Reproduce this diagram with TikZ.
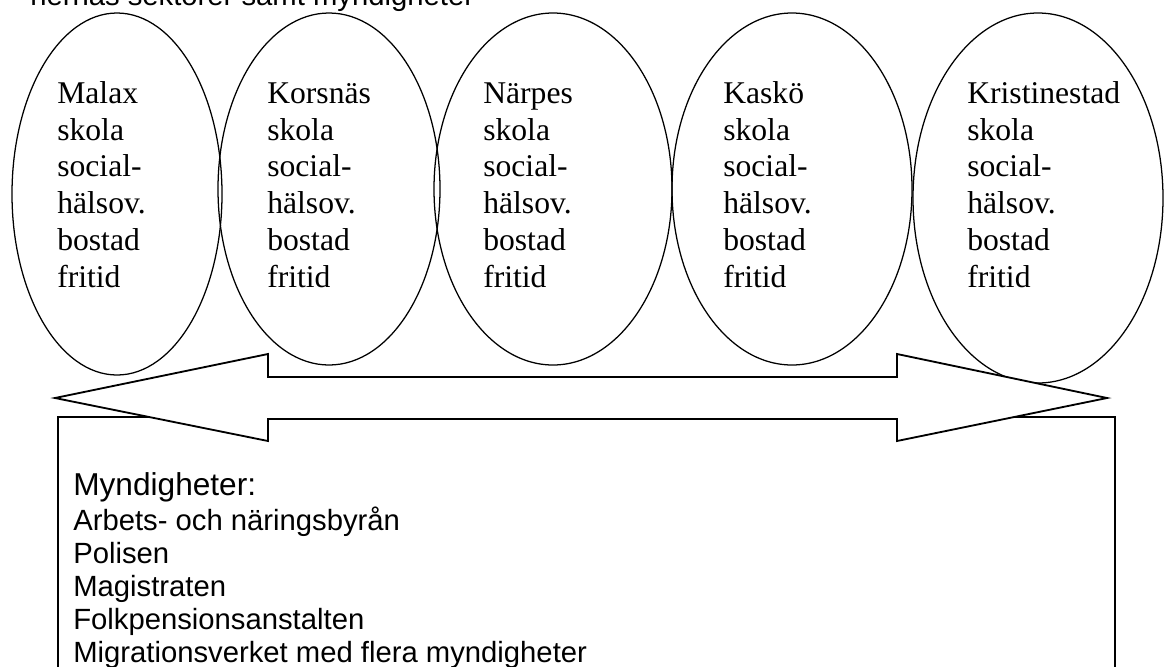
\documentclass[tikz,border=0pt]{standalone}
\usepackage{fontspec}
\setmainfont{Liberation Serif}
\setsansfont{Liberation Sans}
\usetikzlibrary{shapes.geometric}

\begin{document}
\begin{tikzpicture}[x=0.025cm, y=-0.025cm]
\tikzstyle{kommun} = [ellipse, draw, line width=0.9pt, inner sep=0pt]
\tikzstyle{ortstext} = [anchor=base west, align=left, inner sep=0pt,
  font=\fontsize{22.5}{26.1}\selectfont]
\tikzstyle{listtext} = [anchor=base west, align=left, inner sep=0pt,
  font=\sffamily\fontsize{20.8}{23.4}\selectfont]
\useasboundingbox (0,0) rectangle (1164,666);

\node[listtext] (rubrik) at (30,5) {nernas sektorer samt myndigheter};

% kommunerna, sista raden ligger vid y=287
\foreach \name/\cx/\cy/\w/\h/\tx/\ort in {
  malax/117/194/210/362/57/Malax,
  korsnas/329/189/222/352/267/Korsnäs,
  narpes/553/189/238/352/483/Närpes,
  kasko/792/189/240/352/723/Kaskö,
  kristinestad/1038/198/250/370/967/Kristinestad}
{
\node[kommun, minimum width=\w*0.025cm, minimum height=\h*0.025cm] (\name) at (\cx,\cy) {};
\node[ortstext] (\name txt) at (\tx,287) {\ort\\skola\\social-\\hälsov.\\bostad\\fritid};
}

\draw [line width=1.3pt] (58,417) rectangle (1115,720);
\draw [line width=1.3pt, fill=white] (55,398) -- (268,354) -- (268,377) -- (897,377)
  -- (897,354) -- (1107,398) -- (897,441) -- (897,419) -- (268,419)
  -- (268,441) -- cycle;

\node[listtext, font=\sffamily\fontsize{22.5}{26}\selectfont] (myndigheter) at (73,495) {Myndigheter:};
\node[listtext] (lista) at (73,662) {Arbets- och näringsbyrån\\Polisen\\Magistraten\\Folkpensionsanstalten\\Migrationsverket med flera myndigheter};

\end{tikzpicture}
\end{document}
